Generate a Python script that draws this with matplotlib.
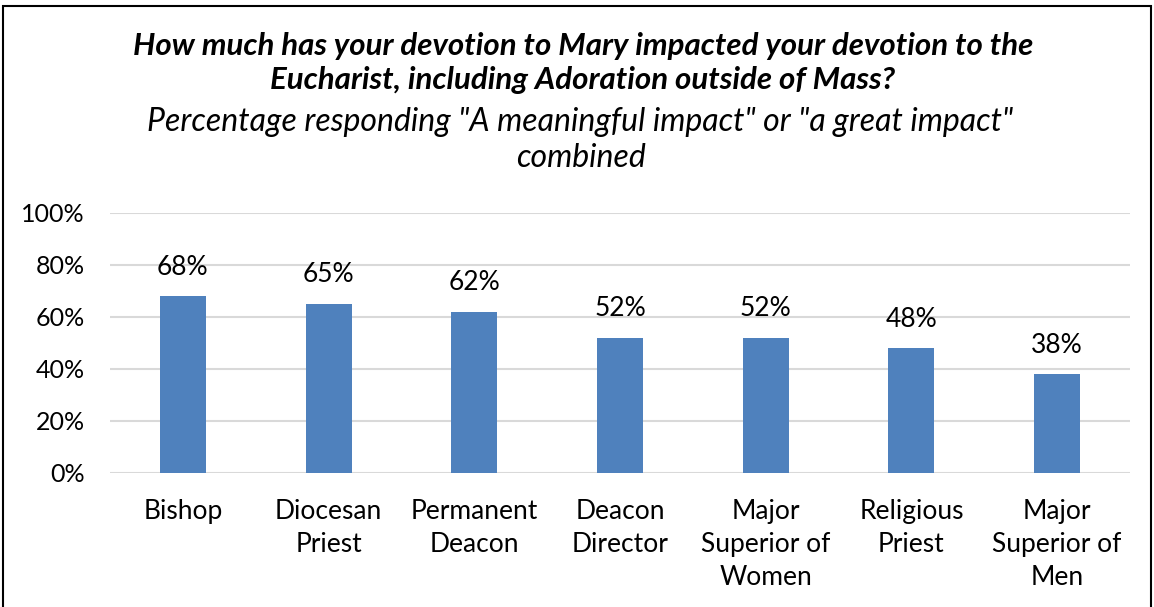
import numpy as np
import matplotlib
matplotlib.use('Agg')
import matplotlib.pyplot as plt
from matplotlib.patches import Rectangle

categories = ["Bishop", "Diocesan\nPriest", "Permanent\nDeacon", "Deacon\nDirector",
              "Major\nSuperior of\nWomen", "Religious\nPriest", "Major\nSuperior of\nMen"]
values = [68, 65, 62, 52, 52, 48, 38]
yticks = [0, 20, 40, 60, 80, 100]

title_lines = ["How much has your devotion to Mary impacted your devotion to the",
               "Eucharist, including Adoration outside of Mass?"]
subtitle_lines = ['Percentage responding "A meaningful impact" or "a great impact"',
                  "combined"]

plt.rcParams['font.family'] = ['Lato', 'DejaVu Sans']

fig = plt.figure(figsize=(11.54, 6.07), dpi=100)
ax = fig.add_axes([0.0953, 0.2208, 0.8839, 0.4283])

x = np.arange(len(categories))
bars = ax.bar(x, values, width=0.316, color='#4F81BD', zorder=3)

ax.set_xlim(-0.5, len(categories) - 0.5)
ax.set_ylim(0, 100)
ax.set_yticks(yticks)
ax.set_yticklabels(["{}%".format(t) for t in yticks], fontsize=18)
ax.set_xticks(x)
ax.set_xticklabels(categories, fontsize=19, linespacing=1.4, va='top')
ax.tick_params(axis='y', length=0, pad=18)
ax.tick_params(axis='x', length=0, pad=19)
ax.grid(axis='y', color='#D9D9D9', linewidth=1.5, zorder=0)
for s in ax.spines.values():
    s.set_visible(False)

for b, v in zip(bars, values):
    ax.annotate("{}%".format(v), (b.get_x() + b.get_width() / 2, v),
                xytext=(0, 21), textcoords='offset points',
                ha='center', va='center', fontsize=19)

for y, line in zip([46, 80], title_lines):
    fig.text(0.505, 1 - y / 607, line, ha='center', va='center',
             fontsize=22.5, fontweight='bold', fontstyle='italic')
for y, line in zip([122, 158], subtitle_lines):
    fig.text(0.503, 1 - y / 607, line, ha='center', va='center',
             fontsize=23, fontstyle='italic')

fig.patches.append(Rectangle((0.003, -0.01), 0.994, 1.0, transform=fig.transFigure,
                             fill=False, edgecolor='black', linewidth=1.5))

fig.savefig("out.png", dpi=100)
